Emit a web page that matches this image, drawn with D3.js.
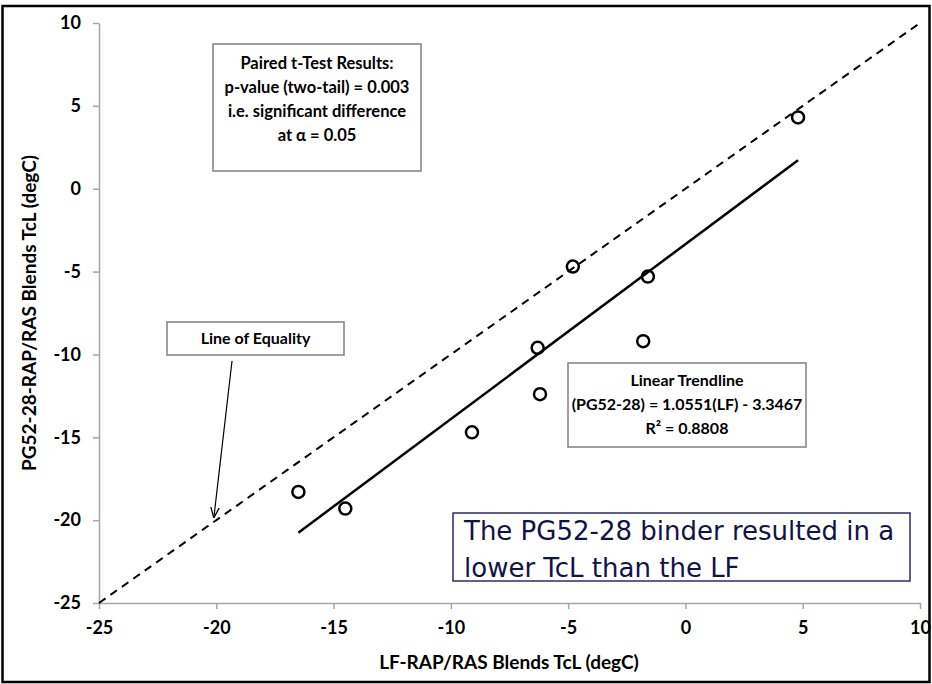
<!DOCTYPE html>
<html>
<head>
<meta charset="utf-8">
<script src="https://cdn.jsdelivr.net/npm/d3@7"></script>
<style>
  body { margin: 0; background: #fff; }
  svg { display: block; }
</style>
</head>
<body>
<svg id="chart"></svg>
<script>
// chart values
const lfTcL = [-16.5, -14.5, -9.1, -6.3, -6.2, -4.8, -1.8, -1.6, 4.8];
const pgTcL = [-18.3, -19.3, -14.7, -9.6, -12.4, -4.7, -9.2, -5.3, 4.3];
const xTicks = [-25, -20, -15, -10, -5, 0, 5, 10];
const yTicks = [-25, -20, -15, -10, -5, 0, 5, 10];
const axisRange = [-25, 10];
const trendSlope = 1.0551;
const trendIntercept = -3.3467;

const tTestLines = ["Paired t-Test Results:", "p-value (two-tail) = 0.003", "i.e. significant difference", "at \u03b1 = 0.05"];
const trendLines = ["Linear Trendline", "(PG52-28) = 1.0551(LF) - 3.3467", "R\u00b2 = 0.8808"];
const noteLines = ["The PG52-28 binder resulted in a", "lower TcL than the LF"];
const equalityLabel = "Line of Equality";
const xTitle = "LF-RAP/RAS Blends TcL (degC)";
const yTitle = "PG52-28-RAP/RAS Blends TcL (degC)";

const W = 932, H = 684;
const labelFont = "Lato, 'Open Sans', sans-serif";

let svg = d3.select("#chart")
  .attr("width", W)
  .attr("height", H);

//outer frame
svg.append("rect")
  .attr("x", 2.5).attr("y", 6)
  .attr("width", 927).attr("height", 676)
  .attr("fill", "#fff")
  .attr("stroke", "#000")
  .attr("stroke-width", 2.5);

let x = d3.scaleLinear().domain(axisRange).range([99, 920]);
let y = d3.scaleLinear().domain(axisRange).range([603, 23]);

//axes (plain hyphen for negatives, like the original)
let xAxis = svg.append("g")
  .attr("transform", "translate(0,603)")
  .call(d3.axisBottom(x).tickValues(xTicks).tickFormat(d => String(d))
    .tickSize(6).tickSizeOuter(0).tickPadding(12));
let yAxis = svg.append("g")
  .attr("transform", "translate(99,0)")
  .call(d3.axisLeft(y).tickValues(yTicks).tickFormat(d => String(d))
    .tickSize(6).tickSizeOuter(0).tickPadding(12));

[xAxis, yAxis].forEach(a => {
  a.select(".domain").attr("stroke", "#a6a6a6").attr("stroke-width", 1.5);
  a.selectAll(".tick line").attr("stroke", "#a6a6a6").attr("stroke-width", 1.5);
  a.selectAll(".tick text")
    .attr("fill", "#000")
    .attr("font-family", labelFont)
    .attr("font-weight", "bold")
    .attr("font-size", "18px");
});

//axis titles
svg.append("text")
  .attr("x", 509).attr("y", 669)
  .attr("text-anchor", "middle")
  .attr("font-family", labelFont)
  .attr("font-weight", "bold")
  .attr("font-size", "19px")
  .text(xTitle);

svg.append("text")
  .attr("transform", "translate(36,313) rotate(-90)")
  .attr("text-anchor", "middle")
  .attr("font-family", labelFont)
  .attr("font-weight", "bold")
  .attr("font-size", "19px")
  .text(yTitle);

//line of equality
svg.append("line")
  .attr("x1", x(axisRange[0])).attr("y1", y(axisRange[0]))
  .attr("x2", x(axisRange[1])).attr("y2", y(axisRange[1]))
  .attr("stroke", "#000")
  .attr("stroke-width", 2)
  .attr("stroke-dasharray", "8,6");

//trendline
let lfExtent = d3.extent(lfTcL);
svg.append("line")
  .attr("x1", x(lfExtent[0])).attr("y1", y(trendSlope * lfExtent[0] + trendIntercept))
  .attr("x2", x(lfExtent[1])).attr("y2", y(trendSlope * lfExtent[1] + trendIntercept))
  .attr("stroke", "#000")
  .attr("stroke-width", 2.5);

//adding dots
svg.selectAll("circle.pt")
  .data(lfTcL.map((d, i) => ({ lf: d, pg: pgTcL[i] })))
  .enter()
  .append("circle")
    .attr("class", "pt")
    .attr("cx", d => x(d.lf))
    .attr("cy", d => y(d.pg))
    .attr("r", 6)
    .attr("fill", "none")
    .attr("stroke", "#000")
    .attr("stroke-width", 2.5);

//text boxes
function textBox(lines, box, opts) {
  let g = svg.append("g");
  g.append("rect")
    .attr("x", box.x).attr("y", box.y)
    .attr("width", box.w).attr("height", box.h)
    .attr("fill", "#fff")
    .attr("stroke", opts.stroke)
    .attr("stroke-width", opts.strokeWidth);
  g.selectAll("text")
    .data(lines)
    .enter()
    .append("text")
      .attr("x", opts.anchor === "start" ? box.x + opts.padX : box.x + box.w / 2)
      .attr("y", (d, i) => box.y + opts.firstBase + i * opts.lineH)
      .attr("text-anchor", opts.anchor)
      .attr("font-family", opts.font)
      .attr("font-weight", opts.weight)
      .attr("font-size", opts.size)
      .attr("fill", opts.color)
      .text(d => d);
}

textBox(tTestLines, { x: 213, y: 44, w: 208, h: 127 }, {
  stroke: "#808080", strokeWidth: 1.5, anchor: "middle", font: labelFont,
  weight: "bold", size: "16.5px", color: "#000", firstBase: 25, lineH: 24
});

textBox([equalityLabel], { x: 167, y: 322, w: 177, h: 33 }, {
  stroke: "#808080", strokeWidth: 1.5, anchor: "middle", font: labelFont,
  weight: "bold", size: "16px", color: "#000", firstBase: 22, lineH: 23
});

textBox(trendLines, { x: 568, y: 363, w: 238, h: 84 }, {
  stroke: "#808080", strokeWidth: 1.5, anchor: "middle", font: labelFont,
  weight: "bold", size: "16px", color: "#000", firstBase: 23, lineH: 24
});

textBox(noteLines, { x: 453, y: 513, w: 457, h: 68 }, {
  stroke: "#2b2b6b", strokeWidth: 1.5, anchor: "start", padX: 11, font: "Tahoma, 'DejaVu Sans', sans-serif",
  weight: "normal", size: "26px", color: "#12124a", firstBase: 27, lineH: 37
});

//arrow to the line of equality
svg.append("defs").append("marker")
  .attr("id", "arrow")
  .attr("viewBox", "0 0 10 10")
  .attr("refX", 9).attr("refY", 5)
  .attr("markerWidth", 9).attr("markerHeight", 9)
  .attr("orient", "auto")
  .append("path")
    .attr("d", "M0,1 L10,5 L0,9")
    .attr("fill", "none")
    .attr("stroke", "#000")
    .attr("stroke-width", 1.2);

svg.append("line")
  .attr("x1", 232).attr("y1", 361)
  .attr("x2", x(-20.1)).attr("y2", y(-19.8))
  .attr("stroke", "#000")
  .attr("stroke-width", 1.2)
  .attr("marker-end", "url(#arrow)");
</script>
</body>
</html>
